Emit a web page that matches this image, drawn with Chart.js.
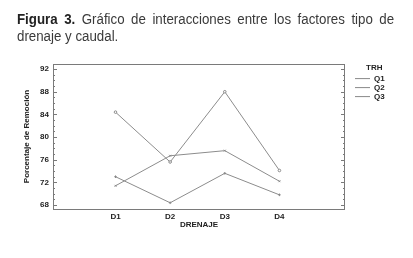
<!DOCTYPE html>
<html>
<head>
<meta charset="utf-8">
<script src="https://cdn.jsdelivr.net/npm/chart.js@4/dist/chart.umd.min.js"></script>
<style>
  html,body{margin:0;padding:0;background:#fff;}
  #wrap{position:relative;width:413px;height:258px;overflow:hidden;}
  #cv{position:absolute;left:0;top:0;}
  #title{position:absolute;left:17px;top:11px;width:397px;transform:scaleX(0.95);transform-origin:0 0;font-family:"Liberation Sans Narrow","Liberation Sans",Arial,sans-serif;font-size:14px;line-height:17px;color:#3a3a3a;}
  #title .l1{text-align:justify;text-align-last:justify;white-space:nowrap;}
  #title b{color:#222;}
</style>
</head>
<body>
<div id="wrap">
  <canvas id="cv" width="413" height="258"></canvas>
  <div id="title"><div class="l1"><b>Figura 3.</b> Gráfico de interacciones entre los factores tipo de</div><div>drenaje y caudal.</div></div>
</div>
<script>
const categories = ['D1', 'D2', 'D3', 'D4'];
const seriesNames = ['Q1', 'Q2', 'Q3'];
const q1 = [84.4, 75.6, 88.0, 74.1];
const q2 = [71.4, 76.7, 77.6, 72.2];
const q3 = [73.0, 68.4, 73.6, 69.8];
const yTicks = [68, 72, 76, 80, 84, 88, 92];
const legendTitle = 'TRH';
const xTitle = 'DRENAJE';
const yTitle = 'Porcentaje de Remoción';

const seriesValues = [q1, q2, q3];
const pointStyles = ['circle', 'crossRot', 'cross'];
const lineColor = '#8c8c8c';
const axisColor = '#7a7a7a';
const tickFont = {family: '"Liberation Sans", Arial, sans-serif', size: 8, weight: 'bold'};

const datasets = seriesNames.map((name, i) => ({
  label: name,
  data: seriesValues[i].map((v, j) => ({x: j + 1, y: v})),
  borderColor: lineColor,
  backgroundColor: lineColor,
  borderWidth: 1,
  pointStyle: pointStyles[i],
  pointRadius: 1.3,
  pointBorderWidth: 1,
  pointBorderColor: '#888',
  pointBackgroundColor: '#fff',
  tension: 0
}));

const innerTicks = {
  id: 'innerTicks',
  afterDraw(chart) {
    const {ctx, chartArea: a, scales} = chart;
    const ys = scales.y;
    ctx.save();
    ctx.strokeStyle = axisColor;
    ctx.lineWidth = 1;
    ctx.strokeRect(a.left + 0.5, a.top + 0.5, a.right - a.left - 1, a.bottom - a.top);
    ctx.beginPath();
    for (let v = Math.ceil(ys.min); v <= Math.floor(ys.max); v++) {
      const py = Math.round(ys.getPixelForValue(v)) + 0.5;
      const len = (v % 4 === 0) ? 4 : 2;
      ctx.moveTo(a.left, py); ctx.lineTo(a.left + len, py);
      ctx.moveTo(a.right, py); ctx.lineTo(a.right - len, py);
    }
    ctx.stroke();
    ctx.restore();
  }
};

const chart = new Chart(document.getElementById('cv'), {
  type: 'line',
  data: {datasets},
  options: {
    responsive: false,
    animation: false,
    layout: {padding: {left: 16, top: 64, right: 20, bottom: 28}},
    plugins: {
      legend: {
        display: true,
        position: 'right',
        align: 'start',
        title: {display: true, text: legendTitle, color: '#222', font: tickFont, padding: 0},
        labels: {
          usePointStyle: true,
          pointStyle: 'line',
          pointStyleWidth: 15,
          boxHeight: 8,
          padding: 1,
          color: '#222',
          font: tickFont
        }
      },
      tooltip: {enabled: false}
    },
    scales: {
      x: {
        type: 'linear',
        min: -0.144,
        max: 5.2,
        afterBuildTicks: s => { s.ticks = categories.map((c, i) => ({value: i + 1})); },
        afterFit: s => { s.height = 21; },
        grid: {display: false, drawTicks: false},
        border: {display: false},
        ticks: {
          padding: 3,
          color: '#222',
          font: tickFont,
          autoSkip: false,
          maxRotation: 0,
          callback: v => categories[v - 1]
        },
        title: {display: true, text: xTitle, color: '#222', font: tickFont, padding: 0}
      },
      y: {
        type: 'linear',
        min: 67.3,
        max: 92.9,
        afterBuildTicks: s => { s.ticks = yTicks.map(v => ({value: v})); },
        afterFit: s => { s.width = 37; },
        grid: {display: false, drawTicks: false},
        border: {display: false},
        ticks: {padding: 4, color: '#222', font: tickFont},
        title: {display: true, text: yTitle, color: '#222', font: tickFont, padding: 6}
      },
      y2: {
        type: 'linear',
        position: 'right',
        min: 67.3,
        max: 92.9,
        afterFit: s => { s.width = 9; },
        grid: {display: false, drawTicks: false},
        border: {display: false},
        ticks: {display: false}
      }
    }
  },
  plugins: [innerTicks]
});

const lw = chart.legend.width;
chart.options.layout.padding.right = Math.max(0, 413 - 354 - lw);
chart.update();
</script>
</body>
</html>
